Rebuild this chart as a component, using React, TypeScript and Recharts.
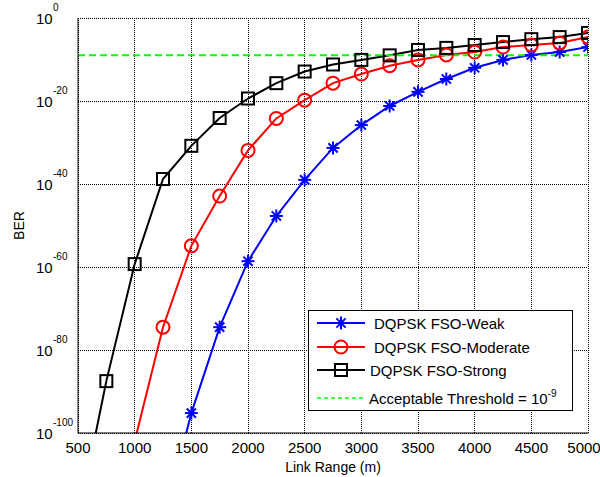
import { LineChart, Line, XAxis, YAxis, CartesianGrid, Legend } from "recharts";

// link range (m)
const ranges = [500, 750, 1000, 1250, 1500, 1750, 2000, 2250, 2500, 2750, 3000, 3250, 3500, 3750, 4000, 4250, 4500, 4750, 5000];

// BER exponents (BER = 10^exp)
const weakExp = [null, null, null, -122, -95.2, -74.5, -58.6, -47.7, -39.0, -31.3, -25.8, -21.2, -17.8, -14.7, -12.0, -10.1, -8.9, -8.2, -7.0];
const moderateExp = [null, null, -102, -74.5, -54.9, -42.9, -31.9, -24.2, -19.8, -15.7, -13.5, -11.5, -10.1, -8.9, -8.2, -7.0, -6.5, -6.0, -4.6];
const strongExp = [-121, -87.5, -59.3, -38.8, -30.8, -24.1, -19.4, -15.7, -12.9, -11.2, -10.1, -9.0, -7.7, -7.2, -6.5, -5.8, -5.1, -4.6, -3.6];
const threshold = 1e-9;

const xTicks = [500, 1000, 1500, 2000, 2500, 3000, 3500, 4000, 4500, 5000];
const yTicks = [1, 1e-20, 1e-40, 1e-60, 1e-80, 1e-100];

const FONT = "'Liberation Sans', Arial, sans-serif";

const toBer = (e: number | null) => (e == null ? null : Math.pow(10, e));

const data = ranges.map((r, i) => ({
  range: r,
  weak: toBer(weakExp[i]),
  moderate: toBer(moderateExp[i]),
  strong: toBer(strongExp[i]),
  threshold,
}));

function starShape(cx: number, cy: number, color: string, key?: any) {
  const r = 6.5;
  const d = r * 0.707;
  return (
    <g key={key} stroke={color} strokeWidth={2}>
      <line x1={cx - r} y1={cy} x2={cx + r} y2={cy} />
      <line x1={cx} y1={cy - r} x2={cx} y2={cy + r} />
      <line x1={cx - d} y1={cy - d} x2={cx + d} y2={cy + d} />
      <line x1={cx - d} y1={cy + d} x2={cx + d} y2={cy - d} />
    </g>
  );
}

function circleShape(cx: number, cy: number, color: string, key?: any) {
  return <circle key={key} cx={cx} cy={cy} r={6.5} fill="none" stroke={color} strokeWidth={2} />;
}

function squareShape(cx: number, cy: number, color: string, key?: any) {
  return <rect key={key} x={cx - 6} y={cy - 6} width={12} height={12} fill="none" stroke={color} strokeWidth={2} />;
}

const dotRenderer = (shape: typeof starShape, color: string) => (props: any) => {
  const { cx, cy, index } = props;
  if (cx == null || cy == null || props.value == null) return <g key={index} />;
  return shape(cx, cy, color, index);
};

const XTick = ({ x, y, payload }: any) => (
  <text x={x} y={y + 19.5} textAnchor="middle" fontSize={15} fontFamily={FONT} fill="#000">
    {payload.value}
  </text>
);

const YTick = ({ x, y, payload }: any) => {
  const exp = Math.round(Math.log10(payload.value)) || 0;
  return (
    <g fontFamily={FONT} fill="#000">
      <text x={x - 42} y={y + 5.5} fontSize={15}>10</text>
      <text x={x - 25} y={y - 7} fontSize={10}>{exp}</text>
    </g>
  );
};

const legendRows = [
  { label: "DQPSK FSO-Weak", color: "#0000ff", shape: starShape, y: 13, tx: 66 },
  { label: "DQPSK FSO-Moderate", color: "#ff0000", shape: circleShape, y: 37, tx: 66 },
  { label: "DQPSK FSO-Strong", color: "#000000", shape: squareShape, y: 60, tx: 62 },
];

const LegendBox = () => (
  <svg width={266} height={102} style={{ display: "block" }}>
    <rect x={0.5} y={0.5} width={264} height={100} fill="#fff" stroke="#000" strokeWidth={1} />
    {legendRows.map((row) => (
      <g key={row.label}>
        <line x1={9} y1={row.y} x2={57} y2={row.y} stroke={row.color} strokeWidth={2} />
        {row.shape(33, row.y, row.color)}
        <text x={row.tx} y={row.y + 5.5} fontSize={15} fontFamily={FONT} fill="#000">
          {row.label}
        </text>
      </g>
    ))}
    <line x1={9} y1={88} x2={55} y2={88} stroke="#00ff00" strokeWidth={1.5} strokeDasharray="4 3" />
    <text x={61} y={93.5} fontSize={15} fontFamily={FONT} fill="#000">
      Acceptable Threshold = 10
      <tspan fontSize={10} dy={-7}>-9</tspan>
    </text>
  </svg>
);

export default function App() {
  return (
    <div style={{ position: "absolute", left: 0, top: 0, background: "#fff" }}>
      <LineChart width={600} height={477} data={data} margin={{ top: 18, right: 12, bottom: 0, left: 0 }}>
        <CartesianGrid stroke="#000" strokeDasharray="1 1" strokeWidth={1} shapeRendering="crispEdges" />
        <XAxis
          dataKey="range"
          type="number"
          domain={[500, 5000]}
          ticks={xTicks}
          allowDataOverflow
          height={44}
          tickLine={false}
          tickSize={0}
          tickMargin={0}
          tick={<XTick />}
          axisLine={{ stroke: "#000", strokeWidth: 1 }}
          label={{
            content: (p: any) => (
              <text
                x={p.viewBox.x + p.viewBox.width / 2}
                y={472}
                textAnchor="middle"
                fontSize={14}
                fontFamily={FONT}
                fill="#000"
              >
                Link Range (m)
              </text>
            ),
          }}
        />
        <XAxis xAxisId="top" orientation="top" type="number" domain={[500, 5000]} height={0} tick={false} tickLine={false} axisLine={{ stroke: "#000" }} />
        <YAxis
          type="number"
          scale="log"
          domain={[1e-100, 1]}
          ticks={yTicks}
          allowDataOverflow
          width={78}
          tickLine={false}
          tickSize={0}
          tickMargin={0}
          tick={<YTick />}
          axisLine={{ stroke: "#000", strokeWidth: 1 }}
          label={{
            content: (p: any) => {
              const cy = p.viewBox.y + p.viewBox.height / 2;
              return (
                <text
                  x={19}
                  y={cy}
                  transform={`rotate(-90 19 ${cy})`}
                  textAnchor="middle"
                  dominantBaseline="central"
                  fontSize={14}
                  fontFamily={FONT}
                  fill="#000"
                >
                  BER
                </text>
              );
            },
          }}
        />
        <YAxis yAxisId="right" orientation="right" width={0} tick={false} tickLine={false} axisLine={{ stroke: "#000" }} />
        <Legend
          layout="vertical"
          align="center"
          verticalAlign="middle"
          wrapperStyle={{ left: 308, top: 310, width: 266, height: 102 }}
          content={() => <LegendBox />}
        />
        <Line
          dataKey="weak"
          name="DQPSK FSO-Weak"
          stroke="#0000ff"
          strokeWidth={2}
          dot={dotRenderer(starShape, "#0000ff")}
          isAnimationActive={false}
        />
        <Line
          dataKey="moderate"
          name="DQPSK FSO-Moderate"
          stroke="#ff0000"
          strokeWidth={2}
          dot={dotRenderer(circleShape, "#ff0000")}
          isAnimationActive={false}
        />
        <Line
          dataKey="strong"
          name="DQPSK FSO-Strong"
          stroke="#000000"
          strokeWidth={2}
          dot={dotRenderer(squareShape, "#000000")}
          isAnimationActive={false}
        />
        <Line
          dataKey="threshold"
          name="Acceptable Threshold"
          stroke="#00ff00"
          strokeWidth={2}
          strokeDasharray="7 4"
          dot={false}
          isAnimationActive={false}
        />
      </LineChart>
    </div>
  );
}
